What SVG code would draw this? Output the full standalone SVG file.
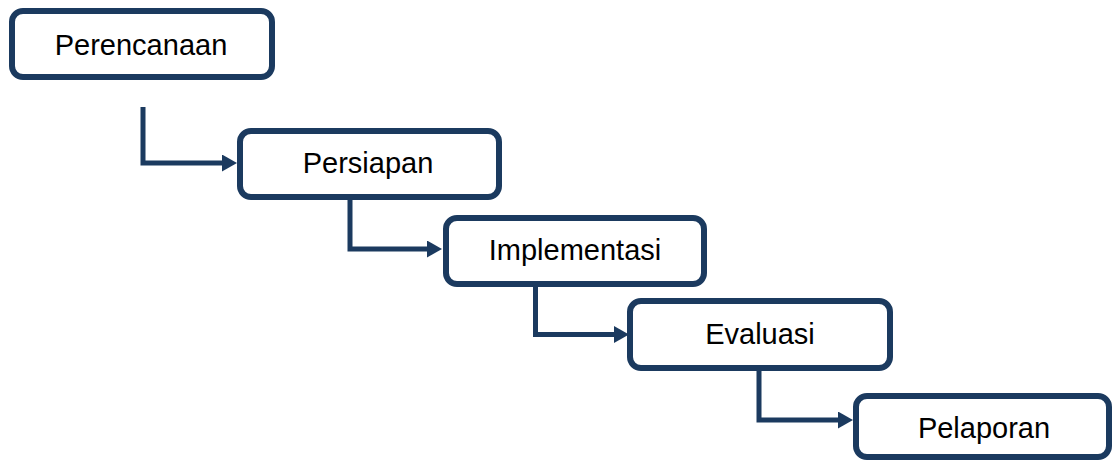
<svg xmlns="http://www.w3.org/2000/svg" width="1112" height="461" viewBox="0 0 1112 461">
<style>
.box{fill:#ffffff;stroke:#1b3a5f;stroke-width:6}
.lbl{font-family:"Liberation Sans",Arial,sans-serif;font-size:29px;fill:#000000;text-anchor:middle}
.conn{fill:none;stroke:#1b3a5f;stroke-width:5}
</style>
<defs>
<marker id="arr" viewBox="0 0 15 17" markerWidth="15" markerHeight="17" refX="0" refY="8.5" orient="auto" markerUnits="userSpaceOnUse">
<path d="M0,0 L15,8.5 L0,17 Z" fill="#1b3a5f"/>
</marker>
</defs>
<rect width="1112" height="461" fill="#ffffff"/>
<g id="connectors">
<path class="conn" d="M143,107 V163 H222" marker-end="url(#arr)"/>
<path class="conn" d="M350,199 V249 H427" marker-end="url(#arr)"/>
<path class="conn" d="M535.5,286 V334.5 H614" marker-end="url(#arr)"/>
<path class="conn" d="M759,370 V420 H838" marker-end="url(#arr)"/>
</g>
<g id="perencanaan">
<rect class="box" x="12" y="11" width="260" height="66" rx="11"/>
<text class="lbl" x="141" y="55">Perencanaan</text>
</g>
<g id="persiapan">
<rect class="box" x="240" y="131" width="259" height="66" rx="11"/>
<text class="lbl" x="368" y="173">Persiapan</text>
</g>
<g id="implementasi">
<rect class="box" x="446" y="218" width="258" height="66" rx="11"/>
<text class="lbl" x="575" y="260">Implementasi</text>
</g>
<g id="evaluasi">
<rect class="box" x="630" y="301" width="260" height="67" rx="11"/>
<text class="lbl" x="760" y="344">Evaluasi</text>
</g>
<g id="pelaporan">
<rect class="box" x="856" y="396" width="253" height="61" rx="11"/>
<text class="lbl" x="984" y="438">Pelaporan</text>
</g>
</svg>
